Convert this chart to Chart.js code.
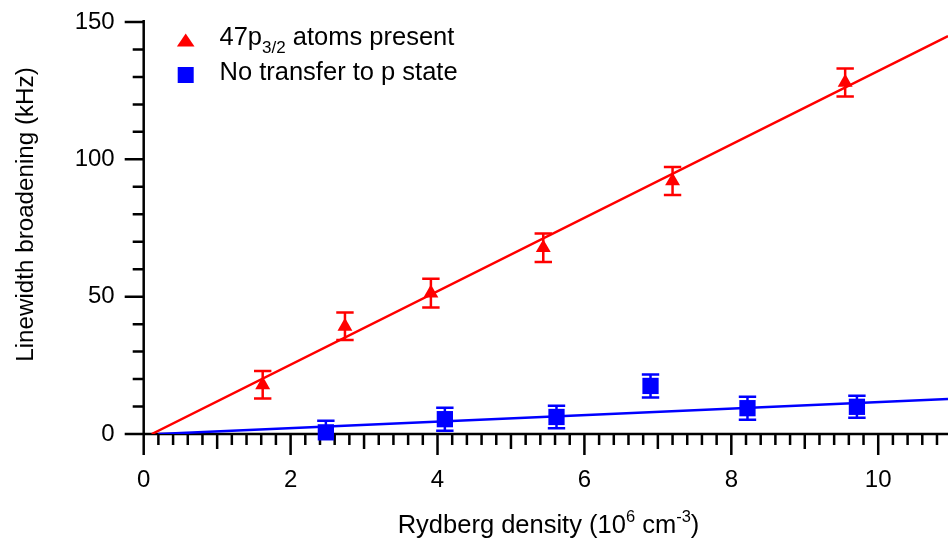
<!DOCTYPE html>
<html>
<head>
<meta charset="utf-8">
<script src="https://cdn.jsdelivr.net/npm/chart.js@4.4.1/dist/chart.umd.min.js"></script>
<style>
  html, body { margin: 0; padding: 0; background: #fff; }
  #wrap { width: 948px; height: 541px; position: relative; }
</style>
</head>
<body>
<div id="wrap"><canvas id="chart"></canvas></div>
<script>
const FONT = '"Liberation Sans", Arial, Helvetica, sans-serif';
const RED = '#ff0000';
const BLUE = '#0000ff';

// Broadening with 47p3/2 atoms present (density in 1e6 cm^-3, broadening in kHz)
const pDensity    = [1.62, 2.74, 3.91, 5.44, 7.20, 9.55];
const pBroadening = [17.9, 39.2, 51.3, 67.8, 92.1, 128.0];
const pError      = [5.0, 5.0, 5.2, 5.2, 5.1, 5.1];

// Broadening without transfer to the p state
const sDensity    = [2.48, 4.10, 5.62, 6.90, 8.22, 9.71];
const sBroadening = [0.6, 5.4, 6.2, 17.5, 9.4, 9.9];
const sError      = [4.2, 4.2, 4.1, 4.2, 4.2, 4.0];

// Linear fits, given by their end points
const pFitX = [0.11, 10.95];
const pFitY = [0, 144.9];
const sFitX = [0.2, 10.95];
const sFitY = [0, 12.7];

// Axis ticks
const xTicks = [0, 2, 4, 6, 8, 10];
const yTicks = [0, 50, 100, 150];
const xRange = [0, 10.95];
const yRange = [0, 150];

const toPoints = (xs, ys) => xs.map((x, i) => ({ x: x, y: ys[i] }));

// fixed scale sizes, no extra label padding
const fixBox = (s, prop, size) => {
  s[prop] = size;
  s.paddingTop = 0; s.paddingBottom = 0; s.paddingLeft = 0; s.paddingRight = 0;
};

// Axis lines with outward major / medium / minor tick marks
const frame = {
  id: 'frame',
  beforeDatasetsDraw(chart) {
    const ctx = chart.ctx;
    const a = chart.chartArea;
    const xs = chart.scales.x, ys = chart.scales.y;
    ctx.save();
    ctx.strokeStyle = '#000';
    ctx.lineWidth = 2.5;
    ctx.lineCap = 'butt';
    ctx.beginPath();
    ctx.moveTo(a.left, a.top - 2);
    ctx.lineTo(a.left, a.bottom);
    ctx.moveTo(a.left, a.bottom);
    ctx.lineTo(a.right, a.bottom);
    // x ticks every 0.2
    for (let k = 0; k * 0.2 <= xRange[1] + 1e-9; k++) {
      const v = k * 0.2;
      const px = xs.getPixelForValue(v);
      let len = 11;
      if (k % 10 === 0) len = 21;
      else if (k % 5 === 0) len = 15;
      ctx.moveTo(px, a.bottom);
      ctx.lineTo(px, a.bottom + len);
    }
    // y ticks every 10
    for (let v = yRange[0]; v <= yRange[1] + 1e-9; v += 10) {
      const py = ys.getPixelForValue(v);
      const len = (v % 50 === 0) ? 19 : 11;
      ctx.moveTo(a.left, py);
      ctx.lineTo(a.left - len, py);
    }
    ctx.stroke();

    // error bars, drawn under the markers
    ctx.beginPath();
    ctx.rect(a.left, a.top - 10, a.right - a.left, a.bottom - a.top + 10);
    ctx.clip();
    const bars = [[pDensity, pBroadening, pError, RED], [sDensity, sBroadening, sError, BLUE]];
    bars.forEach(([dx, dy, de, col]) => {
      ctx.strokeStyle = col;
      ctx.lineWidth = 2.5;
      ctx.beginPath();
      dx.forEach((x, i) => {
        const px = xs.getPixelForValue(x);
        const top = ys.getPixelForValue(dy[i] + de[i]);
        const bot = ys.getPixelForValue(dy[i] - de[i]);
        ctx.moveTo(px, top); ctx.lineTo(px, bot);
        ctx.moveTo(px - 8.7, top); ctx.lineTo(px + 8.7, top);
        ctx.moveTo(px - 8.7, bot); ctx.lineTo(px + 8.7, bot);
      });
      ctx.stroke();
    });
    ctx.restore();
  },
  afterDraw(chart) {
    const ctx = chart.ctx;
    ctx.save();
    ctx.fillStyle = '#000';
    ctx.textBaseline = 'alphabetic';

    // draws a run of text pieces, each with its own size and vertical shift
    const rich = (parts, x, y, align) => {
      let w = 0;
      parts.forEach(p => { ctx.font = p.size + 'px ' + FONT; p.w = ctx.measureText(p.t).width; w += p.w; });
      let cx = align === 'center' ? x - w / 2 : x;
      parts.forEach(p => {
        ctx.font = p.size + 'px ' + FONT;
        ctx.textAlign = 'left';
        ctx.fillText(p.t, cx, y + (p.dy || 0));
        cx += p.w;
      });
    };

    // axis titles
    rich([
      { t: 'Rydberg density (10', size: 25.5 },
      { t: '6', size: 16.5, dy: -11 },
      { t: ' cm', size: 25.5 },
      { t: '-3', size: 16.5, dy: -11 },
      { t: ')', size: 25.5 }
    ], 548.5, 533, 'center');

    ctx.save();
    ctx.translate(33, 214.5);
    ctx.rotate(-Math.PI / 2);
    rich([{ t: 'Linewidth broadening (kHz)', size: 24.2 }], 0, 0, 'center');
    ctx.restore();

    // legend
    ctx.fillStyle = RED;
    ctx.beginPath();
    ctx.moveTo(185.7, 33.5);
    ctx.lineTo(194.5, 46.5);
    ctx.lineTo(176.9, 46.5);
    ctx.closePath();
    ctx.fill();
    ctx.fillStyle = BLUE;
    ctx.fillRect(177.7, 67, 16, 16);

    ctx.fillStyle = '#000';
    rich([
      { t: '47p', size: 25.5 },
      { t: '3/2', size: 17, dy: 8 },
      { t: ' atoms present', size: 25.5 }
    ], 219.5, 45, 'left');
    rich([{ t: 'No transfer to p state', size: 25.5 }], 219.5, 80, 'left');
    ctx.restore();
  }
};

const tickFont = { family: FONT, size: 24 };

new Chart(document.getElementById('chart'), {
  type: 'scatter',
  data: {
    datasets: [
      {
        type: 'line', data: toPoints(pFitX, pFitY), borderColor: RED, borderWidth: 2.5,
        pointRadius: 0, fill: false, tension: 0
      },
      {
        type: 'line', data: toPoints(sFitX, sFitY), borderColor: BLUE, borderWidth: 2.5,
        pointRadius: 0, fill: false, tension: 0
      },
      {
        data: toPoints(pDensity, pBroadening), pointStyle: 'triangle', pointRadius: 8.6,
        backgroundColor: RED, borderColor: RED, borderWidth: 0, clip: false
      },
      {
        data: toPoints(sDensity, sBroadening), pointStyle: 'rect', pointRadius: 11.5,
        backgroundColor: BLUE, borderColor: BLUE, borderWidth: 0, clip: false
      }
    ]
  },
  options: {
    responsive: true,
    maintainAspectRatio: false,
    animation: false,
    events: [],
    layout: { autoPadding: false, padding: { top: 22, right: 0, left: 0, bottom: 0 } },
    plugins: { legend: { display: false }, tooltip: { enabled: false } },
    scales: {
      x: {
        type: 'linear', min: xRange[0], max: xRange[1],
        afterBuildTicks: s => { s.ticks = xTicks.map(v => ({ value: v })); },
        afterFit: s => fixBox(s, 'height', 107),
        grid: { display: false, drawTicks: false },
        border: { display: false },
        ticks: { font: tickFont, color: '#000', padding: 32, maxRotation: 0, autoSkip: false }
      },
      y: {
        type: 'linear', min: yRange[0], max: yRange[1],
        afterBuildTicks: s => { s.ticks = yTicks.map(v => ({ value: v })); },
        afterFit: s => fixBox(s, 'width', 143.7),
        grid: { display: false, drawTicks: false },
        border: { display: false },
        ticks: { font: tickFont, color: '#000', padding: 29, autoSkip: false }
      }
    }
  },
  plugins: [frame]
});
</script>
</body>
</html>
